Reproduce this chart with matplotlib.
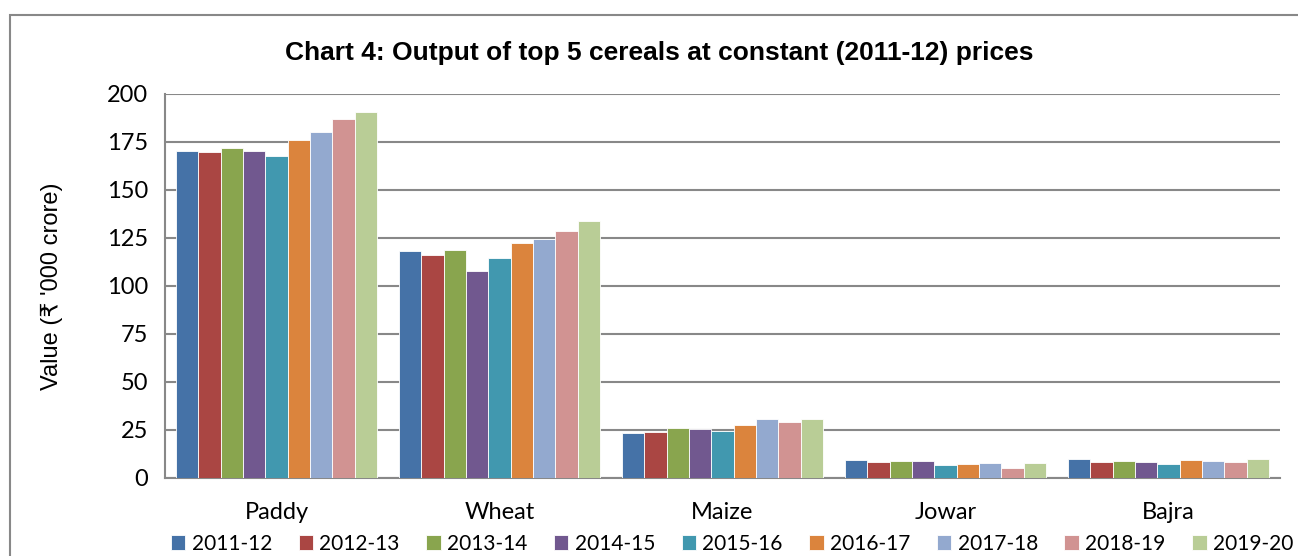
import numpy as np
import matplotlib.pyplot as plt
from matplotlib.patches import Rectangle

plt.rcParams['font.family'] = ['Lato', 'DejaVu Sans']

crops = ['Paddy', 'Wheat', 'Maize', 'Jowar', 'Bajra']
years = ['2011-12', '2012-13', '2013-14', '2014-15', '2015-16',
         '2016-17', '2017-18', '2018-19', '2019-20']

# value in Rs '000 crore, one list per crop (years in order)
paddy = [170.5, 169.6, 171.8, 170.1, 167.7, 176.0, 180.0, 186.9, 190.8]
wheat = [118.0, 115.9, 119.0, 107.8, 114.7, 122.6, 124.5, 128.8, 133.7]
maize = [23.4, 23.8, 26.0, 25.7, 24.3, 27.4, 30.6, 29.3, 30.6]
jowar = [9.5, 8.5, 9.0, 8.9, 6.6, 7.3, 7.6, 5.4, 7.6]
bajra = [9.9, 8.2, 8.9, 8.5, 7.5, 9.4, 8.9, 8.2, 9.7]

colors = ['#4572A7', '#AA4643', '#89A54E', '#71588F', '#4198AF',
          '#DB843D', '#93A9CF', '#D19392', '#B9CD96']

data = np.array([paddy, wheat, maize, jowar, bajra])

fig = plt.figure(figsize=(12.98, 5.56), dpi=100)
ax = fig.add_axes([165 / 1298, 1 - 478 / 556, 1115 / 1298, 384 / 556])

# outer chart border (runs off the right and bottom edges)
fig.patches.append(Rectangle((10 / 1298, -0.1), 1.2, 1 - 15 / 556 + 0.1,
                             transform=fig.transFigure, fill=False,
                             edgecolor='#888888', linewidth=1.5))

x = np.arange(len(crops))
w = 0.1
for i, yr in enumerate(years):
    ax.bar(x - 0.4 + w * i, data[:, i], width=w, color=colors[i],
           edgecolor='white', linewidth=0.6, label=yr, zorder=3)

ax.set_xlim(-0.5, len(crops) - 0.5)
ax.set_ylim(0, 200)
ax.set_yticks(np.arange(0, 201, 25))
ax.yaxis.grid(True, color='#888888', linewidth=1.5, zorder=0)
ax.set_axisbelow(True)
ax.set_xticks(x)
ax.set_xticklabels(crops)
ax.tick_params(axis='both', length=0, labelsize=17)
ax.tick_params(axis='x', pad=17)
ax.tick_params(axis='y', pad=12)
for s in ['top', 'right']:
    ax.spines[s].set_visible(False)
for s in ['left', 'bottom']:
    ax.spines[s].set_color('#888888')
    ax.spines[s].set_linewidth(1.5)

ax.set_ylabel("Value (\u20b9 '000 crore)", fontsize=17,
              family=['Liberation Sans', 'DejaVu Sans'])
ax.yaxis.set_label_coords((63 - 165) / 1115, 0.5)

fig.text(0.508, 1 - 53 / 556, 'Chart 4: Output of top 5 cereals at constant (2011-12) prices',
         ha='center', va='center', fontsize=19, fontweight='bold',
         family=['Liberation Sans', 'DejaVu Sans'])

fig.legend(loc='center', bbox_to_anchor=(732 / 1298, 1 - 544 / 556), ncol=9,
           frameon=False, fontsize=15, handlelength=0.7, handleheight=0.7,
           handletextpad=0.3, columnspacing=1.27, borderaxespad=0)

plt.savefig('out.png', dpi=100)
